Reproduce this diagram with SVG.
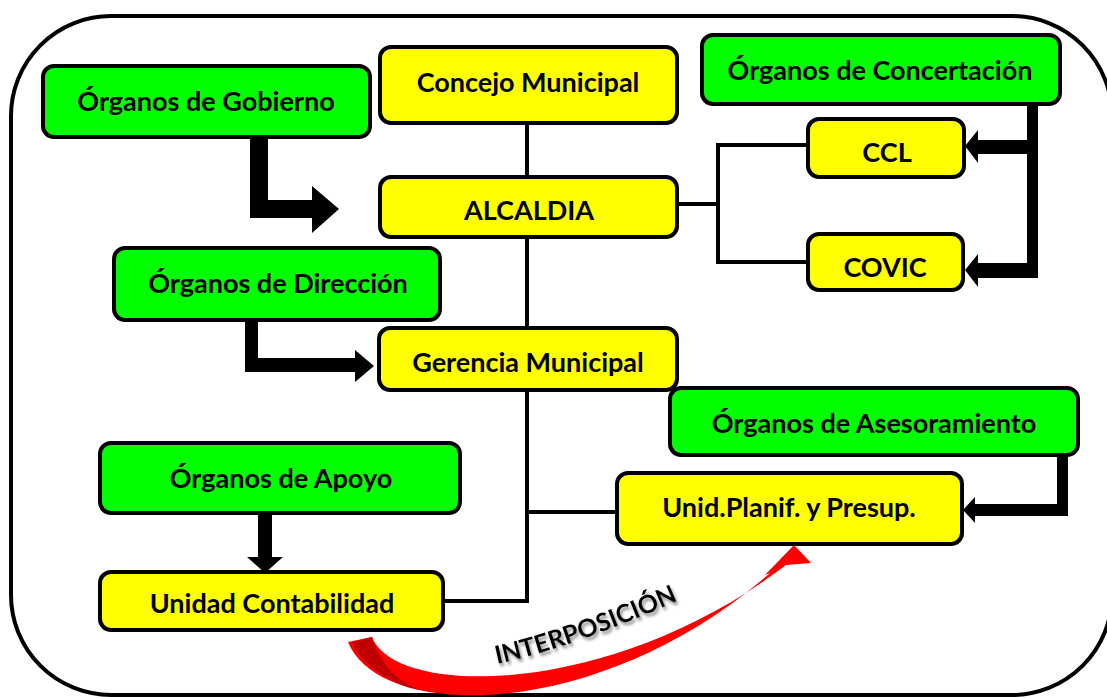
<svg xmlns="http://www.w3.org/2000/svg" width="1107" height="698" viewBox="0 0 1107 698">
<style>
.box{stroke:#000;stroke-width:4}
.g{fill:#00FF00}
.y{fill:#FFFF00}
.lbl{font-family:Lato,"Liberation Sans",sans-serif;font-weight:700;font-size:27px;fill:#000;text-anchor:middle}
.ln{fill:none;stroke:#000;stroke-width:4}
.thick{fill:#000}
</style>
<defs>
<filter id="sh" x="-10%" y="-30%" width="130%" height="170%">
<feDropShadow dx="2" dy="3" stdDeviation="1.5" flood-color="#777" flood-opacity="0.8"/>
</filter>
<path id="arc" d="M 497 664 Q 572 648 684 598" fill="none"/>
</defs>
<rect x="11" y="16" width="1101" height="679" rx="100" ry="100" fill="#fff" stroke="#000" stroke-width="4"/>
<g id="connectors">
<path class="ln" d="M527 123 V601 H443"/>
<path class="ln" d="M527 512 H617"/>
<path class="ln" d="M677 204 H718 M808 145 H718 V262 H808"/>
<polygon class="thick" points="250,137 268,137 268,200 312,200 312,186 339,209 312,233 312,218 250,218"/>
<polygon class="thick" points="245,322 258,322 258,358 355,358 355,350 374,366 355,382 355,372 245,372"/>
<polygon class="thick" points="258,513 272,513 272,557 283,557 265,573 247,557 258,557"/>
<polygon class="thick" points="1027,104 1038,104 1038,278 978,278 978,287 965,270 978,254 978,263 1027,263 1027,154 978,154 978,163 965,146 978,130 978,140 1027,140"/>
<polygon class="thick" points="1057,455 1068,455 1068,516 975,516 975,523 963,510 975,497 975,504 1057,504"/>
<path fill="#FF0000" d="M348 642 L372 637 C395 698 612 698 786 565 L811 563 L794 545 L765 575 L770 573 C600 722 380 722 348 642 Z"/>
<path fill="#C00000" d="M352 642 L372 637 C382 668 398 680 420 690 C392 684 364 668 352 642 Z"/>
</g>
<g id="n-gobierno"><rect class="box g" x="43" y="66" width="327" height="71" rx="11"/><text class="lbl" x="206" y="111">Órganos de Gobierno</text></g>
<g id="n-concejo"><rect class="box y" x="380" y="47" width="297" height="76" rx="11"/><text class="lbl" x="528" y="92">Concejo Municipal</text></g>
<g id="n-alcaldia"><rect class="box y" x="380" y="177" width="297" height="60" rx="11"/><text class="lbl" x="529" y="220">ALCALDIA</text></g>
<g id="n-concertacion"><rect class="box g" x="702" y="35" width="358" height="69" rx="11"/><text class="lbl" x="880" y="80">Órganos de Concertación</text></g>
<g id="n-ccl"><rect class="box y" x="808" y="119" width="156" height="58" rx="11"/><text class="lbl" x="887" y="162">CCL</text></g>
<g id="n-covic"><rect class="box y" x="808" y="234" width="155" height="56" rx="11"/><text class="lbl" x="885" y="277">COVIC</text></g>
<g id="n-direccion"><rect class="box g" x="114" y="248" width="326" height="72" rx="11"/><text class="lbl" x="278" y="293">Órganos de Dirección</text></g>
<g id="n-gerencia"><rect class="box y" x="379" y="328" width="298" height="62" rx="11"/><text class="lbl" x="528" y="372">Gerencia Municipal</text></g>
<g id="n-asesoramiento"><rect class="box g" x="670" y="388" width="408" height="67" rx="11"/><text class="lbl" x="874" y="433">Órganos de Asesoramiento</text></g>
<g id="n-planif"><rect class="box y" x="617" y="473" width="345" height="71" rx="11"/><text class="lbl" x="789" y="517">Unid.Planif. y Presup.</text></g>
<g id="n-apoyo"><rect class="box g" x="100" y="443" width="360" height="70" rx="11"/><text class="lbl" x="281" y="488">Órganos de Apoyo</text></g>
<g id="n-contabilidad"><rect class="box y" x="100" y="572" width="343" height="58" rx="11"/><text class="lbl" x="272" y="613">Unidad Contabilidad</text></g>
<text font-family="Lato,'Liberation Sans',sans-serif" font-weight="700" font-size="25" fill="#000" filter="url(#sh)"><textPath href="#arc">INTERPOSICIÓN</textPath></text>
</svg>
